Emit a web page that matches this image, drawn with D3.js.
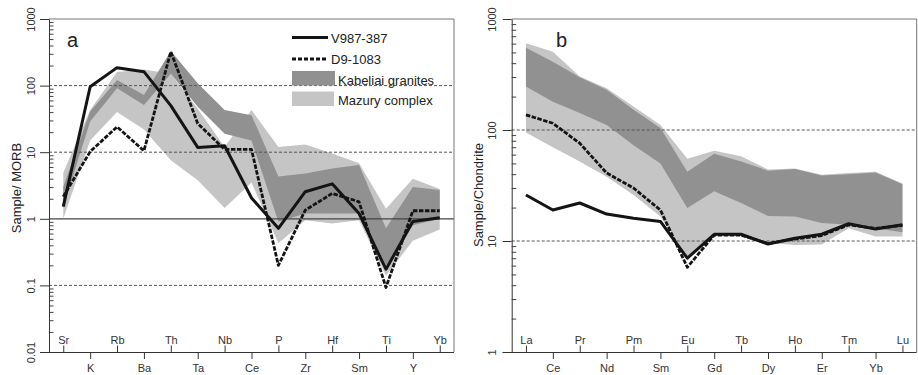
<!DOCTYPE html>
<html>
<head>
<meta charset="utf-8">
<script src="https://cdn.jsdelivr.net/npm/d3@7"></script>
<style>
  html, body { margin: 0; padding: 0; background: #fff; }
  svg { display: block; font-family: "Liberation Sans", Arial, sans-serif; }
</style>
</head>
<body>
<svg id="chart" width="918" height="375"></svg>
<script>
// ---- Panel a: MORB-normalised trace elements ----
const elementsA = ["Sr","K","Rb","Ba","Th","Ta","Nb","Ce","P","Zr","Hf","Sm","Ti","Y","Yb"];
const v987A = [1.52, 96, 186, 162, 50, 11.8, 12.5, 2.05, 0.72, 2.55, 3.35, 1.2, 0.175, 0.91, 1.04];
const d9A   = [2.15, 10.2, 24, 10.5, 323, 27, 11, 11, 0.2, 1.35, 2.4, 1.8, 0.093, 1.32, 1.32];
const mazuryAHi = [4.9, 43, 160, 175, 150, 45, 12, 43, 12, 13, 9.6, 6.8, 1.42, 4.0, 2.8];
const mazuryALo = [1.0, 15, 40, 22, 7.6, 3.8, 1.45, 3.5, 0.43, 0.95, 0.85, 0.95, 0.14, 0.47, 0.69];
const kabeliaiAHi = [3, 41, 121, 72, 330, 108, 43, 36, 4.3, 4.8, 5.7, 6.4, 0.72, 3.0, 2.7];
const kabeliaiALo = [1.5, 29, 91, 51, 150, 48, 19, 15, 0.9, 1.2, 1.2, 1.2, 0.2, 0.8, 1.0];
const ticksA = [0.01, 0.1, 1, 10, 100, 1000];

// ---- Panel b: chondrite-normalised REE ----
const elementsB = ["La","Ce","Pr","Nd","Pm","Sm","Eu","Gd","Tb","Dy","Ho","Er","Tm","Yb","Lu"];
const v987B = [26, 19, 22, 17.5, 16, 15, 7.0, 11.5, 11.5, 9.4, 10.6, 11.5, 14.3, 12.8, 14];
const d9B   = [137, 115, 76, 41, 30, 19, 5.8, 11.3, 11.3, 9.5, 10.4, 11.2, 14, 13, 13.8];
const mazuryBHi = [604, 508, 303, 238, 163, 111, 55, 65, 58, 44, 45, 39.5, 41, 42, 33];
const mazuryBLo = [95, 70, 52, 38, 26, 16.6, 7.2, 11.6, 11.4, 9.6, 9.2, 9.3, 13, 11, 11];
const kabeliaiBHi = [552, 413, 298, 230, 152, 104, 42, 61, 52, 43, 44.5, 39, 40, 41.5, 32.5];
const kabeliaiBLo = [246, 180, 142, 111, 73, 50, 19.8, 28, 22, 16.8, 16.6, 14.5, 14, 13, 12];
const ticksB = [1, 10, 100, 1000];

const legendItems = ["V987-387", "D9-1083", "Kabeliai granites", "Mazury complex"];

const COL_DARK = "#919191";
const COL_LIGHT = "#c5c5c5";
const COL_LINE = "#141414";

const svg = d3.select("#chart");

function panel(opt) {
  const { left, right, top, bottom, domain, elements } = opt;
  const g = svg.append("g");
  const x = d3.scalePoint().domain(elements).range([left, right]).padding(0.53);
  const y = d3.scaleLog().domain(domain).range([bottom, top]);

  const band = (hi, lo) => d3.area()
    .x((d, i) => x(elements[i]))
    .y0((d, i) => y(lo[i]))
    .y1((d, i) => y(hi[i]))(hi);

  // envelopes: Mazury underneath, Kabeliai on top
  g.append("path").attr("d", band(opt.mazHi, opt.mazLo)).attr("fill", COL_LIGHT);
  g.append("path").attr("d", band(opt.kabHi, opt.kabLo)).attr("fill", COL_DARK);

  // reference lines
  opt.dashed.forEach(v => {
    g.append("line").attr("x1", left).attr("x2", right)
      .attr("y1", y(v)).attr("y2", y(v))
      .attr("stroke", "#555").attr("stroke-width", 1).attr("stroke-dasharray", "3,2");
  });
  (opt.solid || []).forEach(v => {
    g.append("line").attr("x1", left).attr("x2", right)
      .attr("y1", y(v)).attr("y2", y(v))
      .attr("stroke", "#444").attr("stroke-width", 1.2);
  });

  const line = d3.line().x((d, i) => x(elements[i])).y(d => y(d));
  g.append("path").attr("d", line(opt.d9)).attr("fill", "none")
    .attr("stroke", COL_LINE).attr("stroke-width", 2.8)
    .attr("stroke-dasharray", "4.5,1.5").attr("stroke-linejoin", "round");
  g.append("path").attr("d", line(opt.v987)).attr("fill", "none")
    .attr("stroke", COL_LINE).attr("stroke-width", 3).attr("stroke-linejoin", "round");

  // frame: top and right in grey
  g.append("path")
    .attr("d", `M${left},${top}H${right}V${bottom}`)
    .attr("fill", "none").attr("stroke", "#777").attr("stroke-width", 1);

  // x axis: alternating labels above (ticks up) and below (ticks down)
  const upper = elements.filter((d, i) => i % 2 === 0);
  const lower = elements.filter((d, i) => i % 2 === 1);
  const axT = g.append("g").attr("transform", `translate(0,${bottom})`)
    .call(d3.axisTop(x).tickValues(upper).tickSize(6.5).tickPadding(1.5).tickSizeOuter(0));
  axT.select(".domain").remove();
  const axB = g.append("g").attr("transform", `translate(0,${bottom})`)
    .call(d3.axisBottom(x).tickValues(lower).tickSize(7).tickPadding(5.5).tickSizeOuter(0));
  axB.select(".domain").attr("d", `M${left - 9},0.5H${right}`).attr("stroke", "#333");
  [axT, axB].forEach(a => {
    a.selectAll(".tick line").attr("stroke", "#333");
    a.selectAll("text").attr("font-size", 11).attr("fill", "#333")
      .style("font-family", '"Liberation Sans", Arial, sans-serif');
  });

  // y axis: major ticks outward, minor ticks inward
  const minors = [];
  for (let e = Math.log10(domain[0]); e < Math.log10(domain[1]); e++) {
    for (let m = 2; m <= 9; m++) minors.push(m * Math.pow(10, e));
  }
  const ayMinor = g.append("g").attr("transform", `translate(${left},0)`)
    .call(d3.axisRight(y).tickValues(minors).tickSize(4.5).tickFormat(""));
  ayMinor.select(".domain").remove();
  ayMinor.selectAll(".tick line").attr("stroke", "#444");

  const ay = g.append("g").attr("transform", `translate(${left},0)`)
    .call(d3.axisLeft(y).tickValues(opt.ticks).tickSize(9).tickSizeOuter(0)
      .tickFormat(d => String(d)));
  ay.select(".domain").attr("stroke", "#333");
  ay.selectAll(".tick line").attr("stroke", "#333");
  ay.selectAll("text")
    .attr("transform", "rotate(-90)")
    .attr("x", 0).attr("y", -opt.labelGap).attr("dy", 0)
    .attr("text-anchor", "middle")
    .attr("font-size", 11).attr("fill", "#333")
    .style("font-family", '"Liberation Sans", Arial, sans-serif');

  // axis title
  g.append("text")
    .attr("transform", `translate(${opt.titleX},${opt.titleY}) rotate(-90)`)
    .attr("text-anchor", "middle").attr("font-size", 13).attr("fill", "#222")
    .text(opt.title);

  // panel letter
  g.append("text").attr("x", opt.letterX).attr("y", 46.5)
    .attr("font-size", 20).attr("fill", "#222").text(opt.letter);

  return { g, x, y };
}

panel({
  left: 49, right: 454, top: 19, bottom: 352,
  domain: [0.01, 1000], elements: elementsA,
  mazHi: mazuryAHi, mazLo: mazuryALo, kabHi: kabeliaiAHi, kabLo: kabeliaiALo,
  v987: v987A, d9: d9A,
  dashed: [100, 10, 0.1], solid: [1], ticks: ticksA, labelGap: 14,
  title: "Sample/ MORB", titleX: 21, titleY: 188,
  letter: "a", letterX: 67
});

panel({
  left: 511.7, right: 916.7, top: 19, bottom: 352,
  domain: [1, 1000], elements: elementsB,
  mazHi: mazuryBHi, mazLo: mazuryBLo, kabHi: kabeliaiBHi, kabLo: kabeliaiBLo,
  v987: v987B, d9: d9B,
  dashed: [100, 10], solid: [], ticks: ticksB, labelGap: 16,
  title: "Sample/Chondrite", titleX: 483, titleY: 195,
  letter: "b", letterX: 556
});

// legend in panel a
const lg = svg.append("g").attr("font-size", 13).attr("fill", "#222");
lg.append("line").attr("x1", 292).attr("x2", 328).attr("y1", 37.5).attr("y2", 37.5)
  .attr("stroke", COL_LINE).attr("stroke-width", 3.2);
lg.append("line").attr("x1", 292).attr("x2", 328).attr("y1", 59).attr("y2", 59)
  .attr("stroke", COL_LINE).attr("stroke-width", 3.2).attr("stroke-dasharray", "4,2");
lg.append("rect").attr("x", 292).attr("y", 71).attr("width", 43).attr("height", 14.5).attr("fill", COL_DARK);
lg.append("rect").attr("x", 292).attr("y", 91.5).attr("width", 42).attr("height", 14.5).attr("fill", COL_LIGHT);
lg.append("text").attr("x", 331).attr("y", 42.5).text(legendItems[0]);
lg.append("text").attr("x", 331).attr("y", 63.5).text(legendItems[1]);
lg.append("text").attr("x", 338).attr("y", 84.5).text(legendItems[2]);
lg.append("text").attr("x", 338).attr("y", 104.5).text(legendItems[3]);
</script>
</body>
</html>
